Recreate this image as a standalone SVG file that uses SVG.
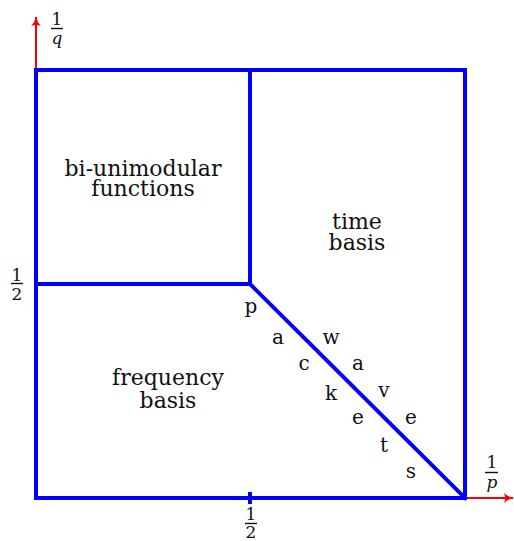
<svg xmlns="http://www.w3.org/2000/svg" width="514" height="541" viewBox="0 0 514 541">
<style>
.b{stroke:#0000ff;stroke-width:4;fill:none;stroke-linecap:square}
.ax{stroke:#ff0000;stroke-width:2;fill:none}
.t{font-family:"DejaVu Serif","Liberation Serif",serif;font-size:22px;fill:#111;text-anchor:middle}
.l{font-family:"DejaVu Serif","Liberation Serif",serif;font-size:20px;fill:#111;text-anchor:middle}
.m{font-family:"DejaVu Serif","Liberation Serif",serif;font-size:17px;fill:#111;text-anchor:middle}
.mi{font-style:italic}
.fb{stroke:#111;stroke-width:1.4}
</style>
<defs>
<marker id="ah" viewBox="0 0 10 10" refX="9" refY="5" markerWidth="10" markerHeight="10" markerUnits="userSpaceOnUse" orient="auto">
<path d="M0,0 Q4,4 10,5 Q4,6 0,10 Q2,5 0,0 Z" fill="#ff0000"/>
</marker>
</defs>
<g id="axes">
<line class="ax" x1="36" y1="70" x2="36" y2="17" marker-end="url(#ah)"/>
<line class="ax" x1="465" y1="498" x2="513" y2="498" marker-end="url(#ah)"/>
</g>
<g id="connectors">
<rect class="b" x="36" y="70" width="429" height="428"/>
<line class="b" x1="250" y1="70" x2="250" y2="284"/>
<line class="b" x1="36" y1="284" x2="250" y2="284"/>
<line class="b" x1="250" y1="284" x2="465" y2="498" stroke-linecap="butt"/>
<line class="b" x1="250" y1="494" x2="250" y2="502" stroke-linecap="butt"/>
</g>
<g id="bi-unimodular">
<text class="t" x="143" y="176">bi-unimodular</text>
<text class="t" x="143" y="196">functions</text>
</g>
<g id="time-basis">
<text class="t" x="357" y="229">time</text>
<text class="t" x="357" y="250">basis</text>
</g>
<g id="frequency-basis">
<text class="t" x="168" y="385">frequency</text>
<text class="t" x="168" y="408">basis</text>
</g>
<g id="packets">
<text class="l" x="251" y="313">p</text>
<text class="l" x="278" y="344">a</text>
<text class="l" x="304" y="370">c</text>
<text class="l" x="331" y="400">k</text>
<text class="l" x="358" y="424">e</text>
<text class="l" x="384" y="452">t</text>
<text class="l" x="411" y="478">s</text>
</g>
<g id="waves">
<text class="l" x="331" y="344">w</text>
<text class="l" x="358" y="370">a</text>
<text class="l" x="384" y="397">v</text>
<text class="l" x="411" y="424">e</text>
</g>
<g id="label-q">
<text class="m" x="57" y="25">1</text>
<line class="fb" x1="51" y1="28.5" x2="63" y2="28.5"/>
<text class="m mi" x="57" y="44">q</text>
</g>
<g id="label-p">
<text class="m" x="492" y="468">1</text>
<line class="fb" x1="485" y1="472.5" x2="498" y2="472.5"/>
<text class="m mi" x="492" y="488">p</text>
</g>
<g id="label-half-left">
<text class="m" x="17" y="281">1</text>
<line class="fb" x1="11" y1="283.5" x2="23" y2="283.5"/>
<text class="m" x="17" y="300">2</text>
</g>
<g id="label-half-bottom">
<text class="m" x="251" y="520">1</text>
<line class="fb" x1="245" y1="523.5" x2="257" y2="523.5"/>
<text class="m" x="251" y="538">2</text>
</g>
</svg>
